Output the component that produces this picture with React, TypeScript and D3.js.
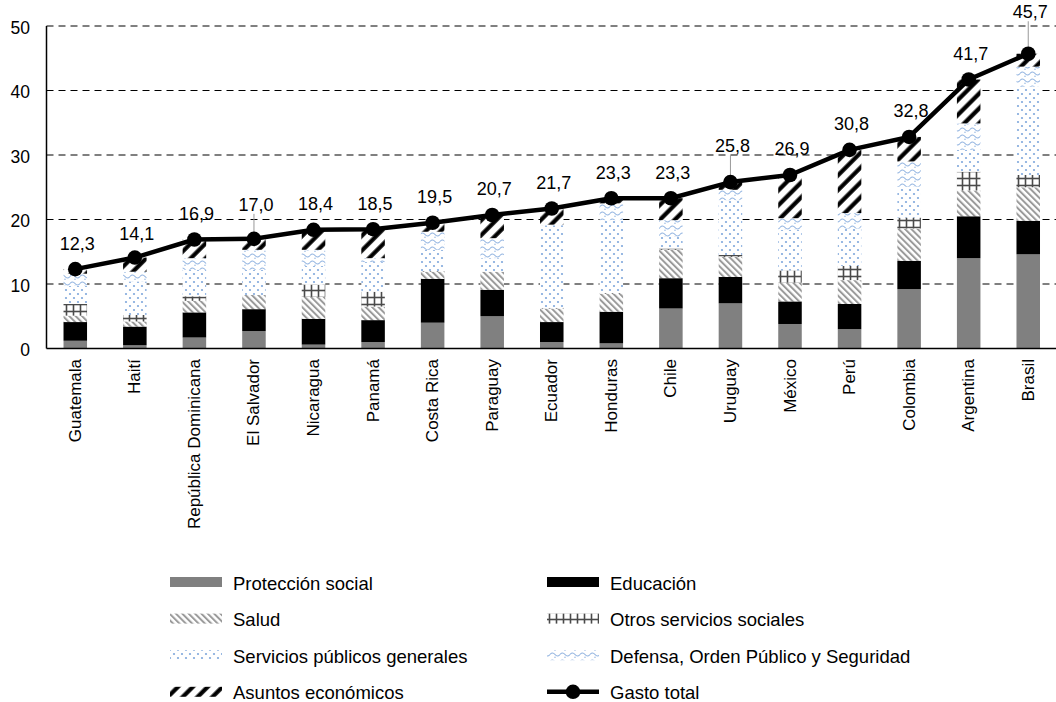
import React from "react";
import * as d3 from "d3";

// Gasto público por función (% del PIB) — componentes apilados y gasto total
const countries = [
  "Guatemala", "Haití", "República Dominicana", "El Salvador", "Nicaragua",
  "Panamá", "Costa Rica", "Paraguay", "Ecuador", "Honduras", "Chile",
  "Uruguay", "México", "Perú", "Colombia", "Argentina", "Brasil",
];
const proteccionSocial = [1.2, 0.5, 1.7, 2.7, 0.6, 1.0, 4.0, 5.0, 1.0, 0.8, 6.2, 7.0, 3.8, 3.0, 9.2, 14.0, 14.6];
const educacion = [2.9, 2.9, 3.9, 3.4, 4.0, 3.4, 6.8, 4.1, 3.1, 4.9, 4.7, 4.1, 3.5, 3.9, 4.4, 6.5, 5.2];
const salud = [1.0, 0.8, 1.8, 2.2, 3.4, 2.1, 1.1, 2.8, 2.1, 2.8, 4.4, 3.1, 2.9, 3.7, 5.0, 4.0, 5.2];
const otrosServicios = [1.8, 1.0, 0.7, 0.0, 1.9, 2.3, 0.1, 0.0, 0.1, 0.1, 0.2, 0.3, 1.9, 2.2, 1.7, 2.9, 1.9];
const serviciosPublicos = [2.8, 5.2, 4.1, 3.9, 2.9, 4.6, 3.3, 2.1, 12.8, 11.3, 1.8, 8.5, 6.3, 5.8, 4.8, 3.4, 13.7];
const defensa = [1.9, 1.5, 1.8, 3.1, 2.5, 0.6, 2.8, 3.1, 0.1, 2.6, 2.6, 1.6, 1.8, 2.4, 3.9, 4.1, 3.1];
const asuntosEconomicos = [0.7, 2.2, 2.9, 1.7, 3.1, 4.5, 1.4, 3.6, 2.5, 0.8, 3.4, 1.2, 6.7, 9.8, 3.8, 6.8, 2.0];
const gastoTotal = [12.3, 14.1, 16.9, 17.0, 18.4, 18.5, 19.5, 20.7, 21.7, 23.3, 23.3, 25.8, 26.9, 30.8, 32.8, 41.7, 45.7];
const yTicks = [0, 10, 20, 30, 40, 50];

const seriesNames = [
  "Protección social", "Educación", "Salud", "Otros servicios sociales",
  "Servicios públicos generales", "Defensa, Orden Público y Seguridad", "Asuntos económicos",
];
const seriesValues = [proteccionSocial, educacion, salud, otrosServicios, serviciosPublicos, defensa, asuntosEconomicos];
const seriesFill = [
  "#808080", "#000000", "url(#pSalud)", "url(#pOtros)",
  "url(#pServ)", "url(#pDef)", "url(#pAsuntos)",
];

// Label lifts above the markers (px); labels pushed higher get a leader line
const labelLift: Record<string, number> = { "El Salvador": 28, Uruguay: 30, Brasil: 35.5, "Haití": 17.5 };
const leaderLabels = new Set(["El Salvador", "Uruguay", "Brasil"]);

const W = 1056;
const H = 702;
const FONT = "'Liberation Sans', Arial, Helvetica, sans-serif";

export default function App() {
  const n = countries.length;
  const step = 59.56;
  const x = d3
    .scaleBand<string>()
    .domain(countries)
    .range([45.5, 45.5 + step * n])
    .paddingInner(0.605)
    .paddingOuter(0.3025);
  const y = d3.scaleLinear().domain([0, 50]).range([348.5, 26]);

  const rows = countries.map((c, i) => {
    const r: Record<string, number | string> = { country: c };
    seriesNames.forEach((s, k) => (r[s] = seriesValues[k][i]));
    return r;
  });
  const stacked = d3.stack<Record<string, number | string>>().keys(seriesNames)(rows as any);

  const cx = (c: string) => (x(c) as number) + x.bandwidth() / 2;
  const line = d3
    .line<number>()
    .x((_, i) => cx(countries[i]))
    .y((v) => y(v));

  const fmt = (v: number) => d3.format(".1f")(v).replace(".", ",");

  const legendItems = [
    { name: seriesNames[0], fill: seriesFill[0], col: 0, row: 0 },
    { name: seriesNames[1], fill: seriesFill[1], col: 1, row: 0 },
    { name: seriesNames[2], fill: seriesFill[2], col: 0, row: 1 },
    { name: seriesNames[3], fill: seriesFill[3], col: 1, row: 1 },
    { name: seriesNames[4], fill: seriesFill[4], col: 0, row: 2 },
    { name: seriesNames[5], fill: seriesFill[5], col: 1, row: 2 },
    { name: seriesNames[6], fill: seriesFill[6], col: 0, row: 3 },
  ];
  const legX = [170, 547];
  const legY = (r: number) => 582 + r * 36.6;

  return (
    <svg
      width={W}
      height={H}
      style={{ position: "absolute", left: 0, top: 0, background: "#fff" }}
      fontFamily={FONT}
    >
      <defs>
        <pattern id="pSalud" patternUnits="userSpaceOnUse" width={4.5} height={4.5} patternTransform="rotate(-45)">
          <rect width={4.5} height={4.5} fill="#fff" />
          <line x1={1} y1={0} x2={1} y2={4.5} stroke="#9a9a9a" strokeWidth={2} />
        </pattern>
        <pattern id="pOtros" patternUnits="userSpaceOnUse" width={7} height={7}>
          <rect width={7} height={7} fill="#fff" />
          <line x1={3.5} y1={0} x2={3.5} y2={7} stroke="#4a4a4a" strokeWidth={1.6} />
          <line x1={0} y1={3.5} x2={7} y2={3.5} stroke="#4a4a4a" strokeWidth={1.6} />
        </pattern>
        <pattern id="pServ" patternUnits="userSpaceOnUse" width={8} height={8}>
          <rect width={8} height={8} fill="#fff" />
          <circle cx={2} cy={2} r={1.1} fill="#7fa8dc" />
          <circle cx={6} cy={6} r={1.1} fill="#7fa8dc" />
        </pattern>
        <pattern id="pDef" patternUnits="userSpaceOnUse" width={10} height={7}>
          <rect width={10} height={7} fill="#fff" />
          <path d="M0 3.5 Q2.5 0.5 5 3.5 T10 3.5" fill="none" stroke="#8fb2e0" strokeWidth={1.1} />
          <circle cx={5} cy={6.3} r={0.8} fill="#a8c4e8" />
        </pattern>
        <pattern id="pAsuntos" patternUnits="userSpaceOnUse" width={10.5} height={10.5} patternTransform="rotate(45)">
          <rect width={10.5} height={10.5} fill="#fff" />
          <line x1={2.5} y1={0} x2={2.5} y2={10.5} stroke="#000" strokeWidth={4.2} />
        </pattern>
      </defs>

      {/* gridlines */}
      {yTicks.filter((t) => t > 0).map((t) => (
        <line key={t} x1={46.5} x2={W} y1={y(t)} y2={y(t)} stroke="#000" strokeWidth={1} strokeDasharray="7,5" />
      ))}

      {/* stacked bars */}
      {stacked.map((layer, k) => (
        <g key={seriesNames[k]} fill={seriesFill[k]}>
          {layer.map((d, i) =>
            d[1] - d[0] > 0 ? (
              <rect
                key={countries[i]}
                x={x(countries[i])}
                width={x.bandwidth()}
                y={y(d[1])}
                height={y(d[0]) - y(d[1])}
              />
            ) : null
          )}
        </g>
      ))}

      {/* axes */}
      <line x1={46.5} x2={46.5} y1={y(50)} y2={y(0)} stroke="#000" strokeWidth={1.5} />
      <line x1={46.5} x2={W} y1={y(0)} y2={y(0)} stroke="#000" strokeWidth={1.5} />
      {yTicks.map((t) => (
        <text key={t} x={30} y={y(t) + 1.5} textAnchor="end" dominantBaseline="central" fontSize={17.5} fill="#000">
          {t}
        </text>
      ))}
      {countries.map((c) => (
        <text
          key={c}
          transform={`translate(${cx(c) + 5.5},${359}) rotate(-90)`}
          textAnchor="end"
          fontSize={17}
          fill="#000"
        >
          {c}
        </text>
      ))}

      {/* leader lines */}
      {countries.map((c, i) =>
        leaderLabels.has(c) ? (
          <line
            key={c}
            x1={cx(c)}
            x2={cx(c)}
            y1={y(gastoTotal[i]) - labelLift[c] + 3}
            y2={y(gastoTotal[i])}
            stroke="#999"
            strokeWidth={1}
          />
        ) : null
      )}

      {/* total line */}
      <path d={line(gastoTotal) || ""} fill="none" stroke="#000" strokeWidth={4.5} strokeLinejoin="round" />
      {gastoTotal.map((v, i) => (
        <circle key={countries[i]} cx={cx(countries[i])} cy={y(v)} r={7.3} fill="#000" />
      ))}
      {gastoTotal.map((v, i) => (
        <text
          key={countries[i]}
          x={cx(countries[i]) + 2}
          y={y(v) - (labelLift[countries[i]] ?? 19.5)}
          textAnchor="middle"
          fontSize={18}
          fill="#000"
        >
          {fmt(v)}
        </text>
      ))}

      {/* legend */}
      {legendItems.map((it) => (
        <g key={it.name}>
          <rect x={legX[it.col]} y={legY(it.row) - 5} width={52} height={10} fill={it.fill} />
          <text x={legX[it.col] + 63} y={legY(it.row) + 1} dominantBaseline="central" fontSize={18.5} fill="#000">
            {it.name}
          </text>
        </g>
      ))}
      <g>
        <line x1={legX[1]} x2={legX[1] + 52} y1={legY(3)} y2={legY(3)} stroke="#000" strokeWidth={4.5} />
        <circle cx={legX[1] + 26} cy={legY(3)} r={7.3} fill="#000" />
        <text x={legX[1] + 63} y={legY(3) + 1} dominantBaseline="central" fontSize={18.5} fill="#000">
          Gasto total
        </text>
      </g>
    </svg>
  );
}
